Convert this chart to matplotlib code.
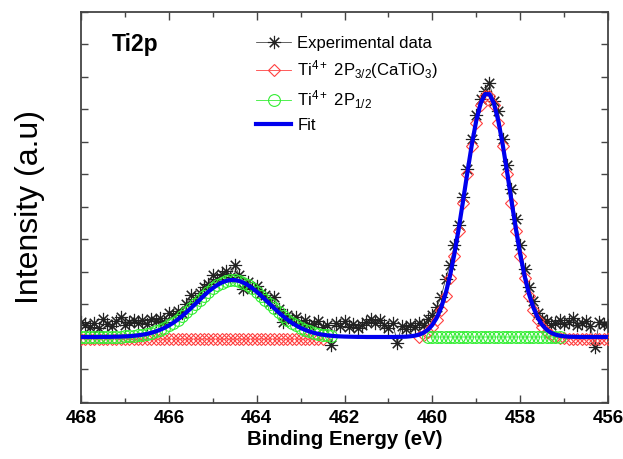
import numpy as np
import matplotlib
matplotlib.use("Agg")
import matplotlib.pyplot as plt
from matplotlib.ticker import MultipleLocator

plt.rcParams['font.family'] = ['Liberation Sans', 'DejaVu Sans']
plt.rcParams['mathtext.default'] = 'regular'

nan = np.nan

# Binding energy grid (eV), 468.0 -> 456.0 in 0.1 eV steps
energy = np.round(np.linspace(468.0, 456.0, 121), 1)

# Experimental data (a.u.)
exp_data = [15, 12, 10, 14, 9, 18, 13, 11, 16, 20, 12, 15, 17,
            14, 17, 13, 18, 16, 19, 15, 24,
            22, 26, 24, 33, 42, 38, 44, 50, 53, 62,
            58, 63, 66, 60, 72, 62, 48, 55, 49, 51,
            44, 42, 35, 40, 28, 15, 22, 18, 20, 14,
            17, 12, 13, 16, 10, 12, -8, 14, 11, 16,
            10, 13, 9, 12, 15, 18, 14, 17, 12, 9,
            14, -6, 11, 8, 12, 10, 14, 12, 18, 22,
            30, 40, 58, 72, 92, 112, 140, 168, 198, 222,
            238, 246, 254, 236, 226, 198, 172, 148, 118, 92,
            68, 50, 36, 24, 18, 16, 12, 14, 17, 13,
            15, 19, 12, 14, 16, 11, -10, 15, 13, 12]

# Ti4+ 2P3/2 (CaTiO3) component
p32_data = [-2, -2, -2, -2, -2, -2, -2, -2, -2, -2, -2, -2, -2,
            -2, -2, -2, -2, -2, -2, -2, -2,
            -2, -2, -2, -2, -2, -2, -2, -2, -2, -2,
            -2, -2, -2, -2, -2, -2, -2, -2, -2, -2,
            -2, -2, -2, -2, -2, -2, -2, -2, -2, -2,
            -2, -2, -2, -2, -2, nan, nan, nan, nan, nan,
            nan, nan, nan, nan, nan, nan, nan, nan, nan, nan,
            nan, nan, nan, nan, nan, nan, 0.4, 2.3, 5.3, 10.1,
            17.2, 27.3, 41.0, 58.8, 80.7, 106.3, 134.4, 163.3, 190.8, 214.4,
            231.7, 240.8, 240.8, 231.7, 214.4, 190.8, 163.3, 134.4, 106.3, 80.7,
            58.8, 41.0, 27.3, 17.2, 10.1, 5.3, 2.3, 0.4, -0.7, -1.3,
            -1.7, -1.8, -2, -2, -2, -2, -2, -2, -2, -2]

# Ti4+ 2P1/2 component
p12_data = [0, 0, 0, 0, 0.1, 0.1, 0.1, 0.2, 0.3, 0.4, 0.6, 0.8, 1.2,
            1.7, 2.3, 3.1, 4.2, 5.5, 7.2, 9.1, 11.5,
            14.2, 17.3, 20.8, 24.6, 28.7, 32.9, 37.1, 41.3, 45.3, 48.8,
            51.9, 54.3, 56.0, 56.9, 56.9, 56.0, 54.3, 51.9, 48.8, 45.3,
            41.3, 37.1, 32.9, 28.7, 24.6, 20.8, 17.3, 14.2, 11.5, 9.1,
            7.2, 5.5, 4.2, 3.1, 2.3, 1.7, 1.2, nan, nan, nan,
            nan, nan, nan, nan, nan, nan, nan, nan, nan, nan,
            nan, nan, nan, nan, nan, nan, nan, nan, 0, 0,
            0, 0, 0, 0, 0, 0, 0, 0, 0, 0,
            0, 0, 0, 0, 0, 0, 0, 0, 0, 0,
            0, 0, 0, 0, 0, 0, 0, 0, 0, nan,
            nan, nan, nan, nan, nan, nan, nan, nan, nan, nan]

# Fit envelope
fit_data = [0, 0, 0, 0, 0.1, 0.1, 0.1, 0.2, 0.3, 0.4, 0.6, 0.8, 1.2,
            1.7, 2.3, 3.1, 4.2, 5.5, 7.2, 9.1, 11.5,
            14.2, 17.3, 20.8, 24.6, 28.7, 32.9, 37.1, 41.3, 45.3, 48.8,
            51.9, 54.3, 56.0, 56.9, 56.9, 56.0, 54.3, 51.9, 48.8, 45.3,
            41.3, 37.1, 32.9, 28.7, 24.6, 20.8, 17.3, 14.2, 11.5, 9.1,
            7.2, 5.5, 4.2, 3.1, 2.3, 1.7, 1.2, 0.8, 0.6, 0.4,
            0.3, 0.2, 0.1, 0.1, 0, 0, 0, 0, 0, 0,
            0, 0.1, 0.2, 0.3, 0.7, 1.3, 2.4, 4.3, 7.3, 12.1,
            19.2, 29.3, 43.0, 60.8, 82.7, 108.3, 136.4, 165.3, 192.8, 216.4,
            233.7, 242.8, 242.8, 233.7, 216.4, 192.8, 165.3, 136.4, 108.3, 82.7,
            60.8, 43.0, 29.3, 19.2, 12.1, 7.3, 4.3, 2.4, 1.3, 0.7,
            0.3, 0.2, 0.1, 0, 0, 0, 0, 0, 0, 0]

labels = ["Experimental data",
          "Ti$^{4+}$ 2P$_{3/2}$(CaTiO$_3$)",
          "Ti$^{4+}$ 2P$_{1/2}$",
          "Fit"]

fig = plt.figure(figsize=(6.23, 4.59), dpi=100)
ax = fig.add_axes([0.130, 0.122, 0.846, 0.852])

ax.plot(energy, exp_data, color='#222222', lw=0.5, marker=(8, 2, 0),
        ms=9.5, mew=0.8, label=labels[0], zorder=2)
ax.plot(energy, p32_data, color='#ff4040', lw=0.6, marker='D', ms=6.5,
        mfc='none', mec='#ff4040', mew=0.8, label=labels[1], zorder=3)
ax.plot(energy, p12_data, color='#33ee33', lw=0.6, marker='o', ms=8.5,
        mfc='none', mec='#33ee33', mew=0.8, label=labels[2], zorder=4)
ax.plot(energy, fit_data, color='#0000ee', lw=3, label=labels[3], zorder=5)

ax.set_xlim(468, 456)
ax.set_ylim(-66, 325)
ax.xaxis.set_major_locator(MultipleLocator(2))
ax.xaxis.set_minor_locator(MultipleLocator(1))
ax.yaxis.set_major_locator(MultipleLocator(32.5))
ax.tick_params(axis='both', which='both', direction='in', top=True, right=True,
               color='#444444')
ax.tick_params(axis='x', which='major', length=6, width=1.0)
ax.tick_params(axis='x', which='minor', length=3.5, width=1.0)
ax.tick_params(axis='y', which='major', length=5, width=1.0, labelleft=False)
for lab in ax.get_xticklabels():
    lab.set_fontweight('bold')
    lab.set_fontsize(13.5)
ax.tick_params(axis='x', pad=5)
for s in ax.spines.values():
    s.set_linewidth(1.3)
    s.set_color('#444444')

ax.set_xlabel("Binding Energy (eV)", fontsize=14.8, fontweight='bold', labelpad=2)
ax.set_ylabel("Intensity (a.u)", fontsize=23)
ax.yaxis.set_label_coords(-0.068, 0.5)

ax.text(467.3, 292, "Ti2p", fontsize=16.5, fontweight='bold', va='center', ha='left')

leg = ax.legend(loc='upper left', bbox_to_anchor=(0.32, 0.955), frameon=False,
                fontsize=12, handlelength=2.1, handletextpad=0.35,
                labelspacing=0.42, borderaxespad=0.0)

fig.savefig("out.png", dpi=100)
